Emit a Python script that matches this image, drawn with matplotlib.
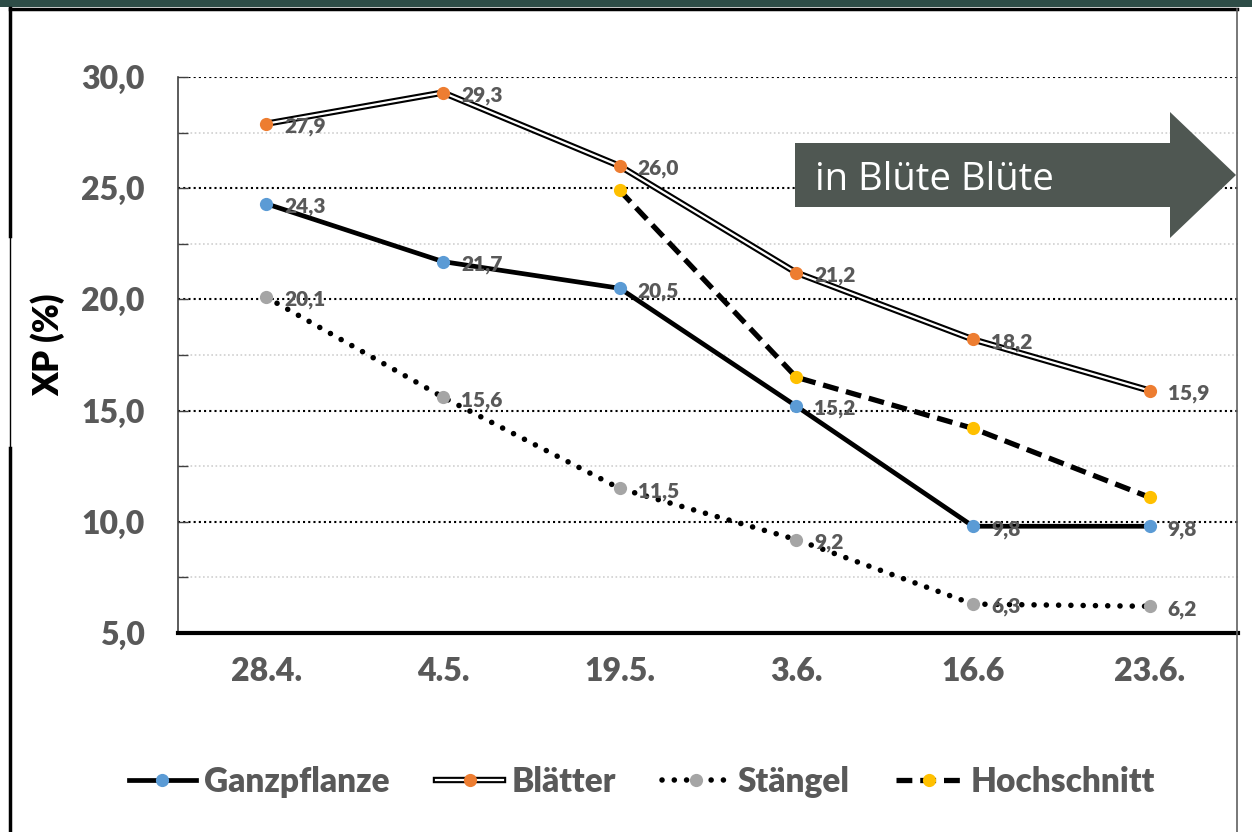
import matplotlib
matplotlib.use("Agg")
import matplotlib.pyplot as plt
import matplotlib.patheffects as pe
from matplotlib.patches import Rectangle, Polygon
from matplotlib.lines import Line2D
import numpy as np

# data
dates = ["28.4.", "4.5.", "19.5.", "3.6.", "16.6", "23.6."]
ganzpflanze = [24.3, 21.7, 20.5, 15.2, 9.8, 9.8]
blaetter = [27.9, 29.3, 26.0, 21.2, 18.2, 15.9]
staengel = [20.1, 15.6, 11.5, 9.2, 6.3, 6.2]
hochschnitt = [np.nan, np.nan, 24.9, 16.5, 14.2, 11.1]

plt.rcParams['font.family'] = ['Lato', 'DejaVu Sans']
grey_txt = '#595959'

fig = plt.figure(figsize=(12.52, 8.32), dpi=100)
ax = fig.add_axes([178/1252, 1-633/832, 1060/1252, 556/832])

x = np.arange(len(dates)) + 0.5

# lines first, markers on top
l1, = ax.plot(x, ganzpflanze, color='black', lw=3.4, zorder=3)
l2, = ax.plot(x, blaetter, color='white', lw=1.6, zorder=3,
              path_effects=[pe.Stroke(linewidth=4.6, foreground='black'), pe.Normal()])
l3, = ax.plot(x, staengel, color='black', lw=4.0, ls=(0, (0.01, 2.2)),
              dash_capstyle='round', zorder=3)
l4, = ax.plot(x, hochschnitt, color='black', lw=3.8, ls=(0, (3.0, 1.5)), zorder=3)

ms = 9.5
m1, = ax.plot(x, ganzpflanze, 'o', color='#5b9bd5', ms=ms, mew=0, zorder=4)
m2, = ax.plot(x, blaetter, 'o', color='#ed7d31', ms=ms, mew=0, zorder=4)
m3, = ax.plot(x, staengel, 'o', color='#a5a5a5', ms=ms, mew=0, zorder=4)
m4, = ax.plot(x, hochschnitt, 'o', color='#ffc000', ms=ms, mew=0, zorder=4)

# data labels
for series in [ganzpflanze, blaetter, staengel]:
    for xi, v in zip(x, series):
        ax.annotate(f"{v:.1f}".replace('.', ','), (xi, v), xytext=(13, -2),
                    textcoords='offset points', ha='left', va='center',
                    fontsize=15, fontweight='heavy', color=grey_txt, zorder=5)

ax.set_xlim(0, 6)
ax.set_ylim(5, 30)
ax.set_xticks(x)
ax.set_xticklabels(dates)
ax.set_yticks(np.arange(5, 31, 5))
ax.set_yticklabels([f"{v:.1f}".replace('.', ',') for v in np.arange(5, 31, 5)])
ax.set_yticks(np.arange(7.5, 30, 5), minor=True)
ax.tick_params(axis='x', length=0, pad=17, labelsize=23, labelcolor=grey_txt)
ax.tick_params(axis='y', which='both', direction='in', length=7, width=1,
               color='#404040', pad=24, labelsize=23, labelcolor=grey_txt)
for lab in ax.get_xticklabels() + ax.get_yticklabels():
    lab.set_fontweight('heavy')

ax.grid(axis='y', which='major', color='black', ls=(0, (1, 1.5)), lw=1.5)
ax.grid(axis='y', which='minor', color='#d0d0d0', ls=(0, (1, 1.5)), lw=1.2)
ax.set_axisbelow(True)
for s in ['top', 'right']:
    ax.spines[s].set_visible(False)
ax.spines['left'].set_color('#404040')
ax.spines['left'].set_linewidth(1.2)
ax.spines['bottom'].set_color('black')
ax.spines['bottom'].set_linewidth(3)

fig.text(48/1252, 1-345/832, "XP (%)", rotation=90, ha='center', va='center',
         fontsize=25, fontweight='heavy', color='black')

# arrow "in Blüte" (pixel coordinates of the picture)
arrow_px = [[795, 143], [1170, 143], [1170, 112], [1236, 175],
            [1170, 238], [1170, 207], [795, 207]]
arrow = Polygon([[px/1252, 1-py/832] for px, py in arrow_px], closed=True,
                facecolor='#4f5752', edgecolor='none', zorder=6,
                transform=fig.transFigure)
fig.patches.append(arrow)
fig.text(815/1252, 1-180/832, "in Blüte Blüte", ha='left', va='center',
         fontsize=27.5, color='white', family=['Open Sans', 'DejaVu Sans'], zorder=7)

# legend
handles = [(l1, m1), (l2, m2), (l3, m3), (l4, m4)]
names = ["Ganzpflanze", "Blätter", "Stängel", "Hochschnitt"]
leg = fig.legend(handles, names, loc='center', bbox_to_anchor=(0.513, 1-782/832),
                 ncol=4, frameon=False, handlelength=2.0, handletextpad=0.25,
                 columnspacing=1.4, prop={'size': 24, 'weight': 'heavy'})
for t in leg.get_texts():
    t.set_color(grey_txt)

# frame round the chart and top band
fig.patches.append(Rectangle((0, 1-7/832), 1, 7/832, transform=fig.transFigure,
                             facecolor='#2e4d47', edgecolor='none'))
for y0, y1, w in [(8, 236, 2.5), (236, 448, 1.0), (448, 832, 2.5)]:
    fig.lines.append(Line2D([10/1252, 10/1252], [1-y0/832, 1-y1/832],
                            transform=fig.transFigure, color='black', lw=w))
fig.lines.append(Line2D([10/1252, 1237/1252], [1-9/832, 1-9/832],
                        transform=fig.transFigure, color='black', lw=2.5))
fig.lines.append(Line2D([1237/1252, 1237/1252], [1-9/832, 0],
                        transform=fig.transFigure, color='#606060', lw=1.2))

fig.savefig("out.png", dpi=100)
